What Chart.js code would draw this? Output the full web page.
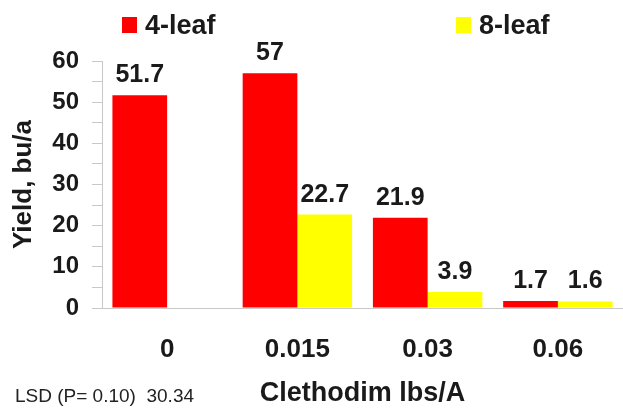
<!DOCTYPE html>
<html>
<head>
<meta charset="utf-8">
<script src="https://cdn.jsdelivr.net/npm/chart.js@4.4.1/dist/chart.umd.min.js"></script>
<style>
    body { margin: 0; background: #fff; }
    #wrap { position: relative; width: 623px; height: 415px; font-family: "Liberation Sans", Arial, sans-serif; }
    #legend .item { position: absolute; top: 8px; display: flex; align-items: center; height: 34px; font-weight: bold; font-size: 27px; color: #1a1a1a; }
    #legend .box { width: 15px; height: 16px; margin-right: 8px; }
    #note { position: absolute; left: 15px; top: 385px; font-size: 19px; color: #222; white-space: pre; }
</style>
</head>
<body>
<div id="wrap">
    <canvas id="yieldChart" width="623" height="415"></canvas>
    <div id="legend"></div>
    <div id="note">LSD (P= 0.10)  30.34</div>
</div>
<script>
const categories = ["0", "0.015", "0.03", "0.06"];
const leaf4 = [51.7, 57, 21.9, 1.7];
const leaf8 = [null, 22.7, 3.9, 1.6];
const seriesNames = ["4-leaf", "8-leaf"];
const seriesColors = ["#ff0000", "#ffff00"];
const yMax = 60;
const yStep = 10;

const FONT = "'Liberation Sans', Arial, sans-serif";
const INK = "#1a1a1a";

// value labels above each bar
const barLabels = {
    id: "barLabels",
    afterDatasetsDraw(chart) {
        const ctx = chart.ctx;
        ctx.save();
        ctx.font = "bold 25px " + FONT;
        ctx.fillStyle = INK;
        ctx.textAlign = "center";
        ctx.textBaseline = "alphabetic";
        chart.data.datasets.forEach(function (ds, i) {
            chart.getDatasetMeta(i).data.forEach(function (bar, j) {
                const v = ds.data[j];
                if (v === null) return;
                ctx.fillText(String(v), bar.x, bar.y - 13);
            });
        });
        ctx.restore();
    }
};

const chart = new Chart(document.getElementById("yieldChart"), {
    type: "bar",
    data: {
        labels: categories,
        datasets: [
            { label: seriesNames[0], data: leaf4, backgroundColor: seriesColors[0] },
            { label: seriesNames[1], data: leaf8, backgroundColor: seriesColors[1] }
        ]
    },
    options: {
        responsive: false,
        animation: false,
        layout: { padding: { top: 61, right: 0, bottom: 0, left: 0 } },
        datasets: {
            bar: { categoryPercentage: 0.84, barPercentage: 1.0 }
        },
        plugins: {
            legend: { display: false },
            tooltip: { enabled: false }
        },
        scales: {
            x: {
                grid: { drawOnChartArea: false, drawTicks: false },
                border: { color: "#c8c8c8", width: 1 },
                ticks: {
                    color: INK,
                    padding: 26,
                    font: { family: FONT, size: 26, weight: "bold" }
                },
                title: {
                    display: true,
                    text: "Clethodim lbs/A",
                    color: INK,
                    padding: { top: 0, bottom: 5 },
                    font: { family: FONT, size: 27, weight: "bold" }
                },
                afterFit(scale) { scale.height = 107; }
            },
            y: {
                min: 0,
                max: yMax,
                grid: { drawOnChartArea: false, drawTicks: true, tickLength: 10, color: "#c8c8c8" },
                border: { color: "#c8c8c8", width: 1 },
                ticks: {
                    stepSize: yStep / 2,
                    autoSkip: false,
                    color: INK,
                    padding: 13,
                    font: { family: FONT, size: 24, weight: "bold" },
                    callback: function (v) { return v % yStep === 0 ? v : ""; }
                },
                title: {
                    display: true,
                    text: "Yield, bu/a",
                    color: INK,
                    padding: { top: 8, bottom: 0 },
                    font: { family: FONT, size: 26, weight: "bold" }
                },
                afterFit(scale) { scale.width = 102; }
            }
        }
    },
    plugins: [barLabels]
});

// legend, placed like the original
const legendPos = [122, 456];
const legend = document.getElementById("legend");
seriesNames.forEach(function (name, i) {
    const item = document.createElement("div");
    item.className = "item";
    item.style.left = legendPos[i] + "px";
    const box = document.createElement("span");
    box.className = "box";
    box.style.background = seriesColors[i];
    item.appendChild(box);
    item.appendChild(document.createTextNode(name));
    legend.appendChild(item);
});
</script>
</body>
</html>
